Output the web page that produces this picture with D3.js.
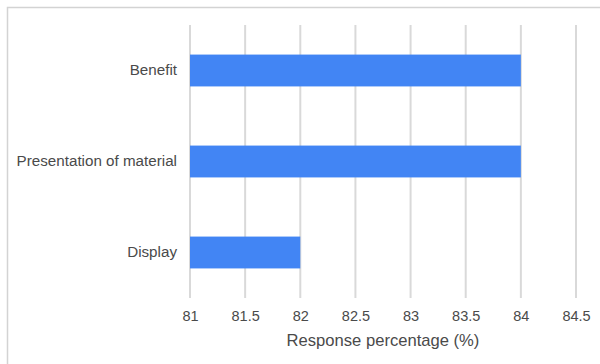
<!DOCTYPE html>
<html>
<head>
<meta charset="utf-8">
<script src="https://cdn.jsdelivr.net/npm/d3@7"></script>
<style>
  html, body { margin: 0; padding: 0; background: #fff; }
  svg { display: block; }
  text { font-family: Arial, "Liberation Sans", sans-serif; }
</style>
</head>
<body>
<svg id="chart" width="600" height="364"></svg>
<script>
const categories = ["Benefit", "Presentation of material", "Display"];
const values = [84, 84, 82];
const xTicks = [81, 81.5, 82, 82.5, 83, 83.5, 84, 84.5];
const xTitle = "Response percentage (%)";

const svg = d3.select("#chart");
const plot = { left: 190, right: 576, top: 25, bottom: 298 };

// outer frame
svg.append("rect")
  .attr("x", 7.5).attr("y", 7.5)
  .attr("width", 620).attr("height", 400)
  .attr("fill", "none").attr("stroke", "#d3d3d3").attr("stroke-width", 1.5);

const x = d3.scaleLinear().domain([81, 84.5]).range([plot.left, plot.right]);
const y = d3.scaleBand().domain(categories).range([plot.top, plot.bottom])
  .paddingInner(0.65).paddingOuter(0.325);

// gridlines
svg.append("g").selectAll("line").data(xTicks).join("line")
  .attr("x1", d => x(d)).attr("x2", d => x(d))
  .attr("y1", plot.top).attr("y2", plot.bottom)
  .attr("stroke", "#d9d9d9").attr("stroke-width", 2);

// bars
svg.append("g").selectAll("rect").data(categories).join("rect")
  .attr("x", x(81))
  .attr("y", d => y(d))
  .attr("width", (d, i) => x(values[i]) - x(81))
  .attr("height", y.bandwidth())
  .attr("fill", "#4285f4");

// x axis labels
const xAxis = d3.axisBottom(x).tickValues(xTicks).tickSize(0).tickPadding(0)
  .tickFormat(d3.format("~g"));
const gx = svg.append("g").attr("transform", `translate(0,${plot.bottom + 13})`).call(xAxis);
gx.select(".domain").remove();
gx.selectAll("text").attr("font-size", 14.5).attr("fill", "#4a4a4a")
  .attr("font-family", "Arial, 'Liberation Sans', sans-serif");

// y axis labels
const yAxis = d3.axisLeft(y).tickSize(0).tickPadding(13);
const gy = svg.append("g").attr("transform", `translate(${plot.left},0)`).call(yAxis);
gy.select(".domain").remove();
gy.selectAll("text").attr("font-size", 15.2).attr("fill", "#4a4a4a")
  .attr("font-family", "Arial, 'Liberation Sans', sans-serif");

// axis title
svg.append("text")
  .attr("x", (plot.left + plot.right) / 2).attr("y", 346)
  .attr("text-anchor", "middle").attr("font-size", 16.6).attr("fill", "#4a4a4a")
  .text(xTitle);
</script>
</body>
</html>
